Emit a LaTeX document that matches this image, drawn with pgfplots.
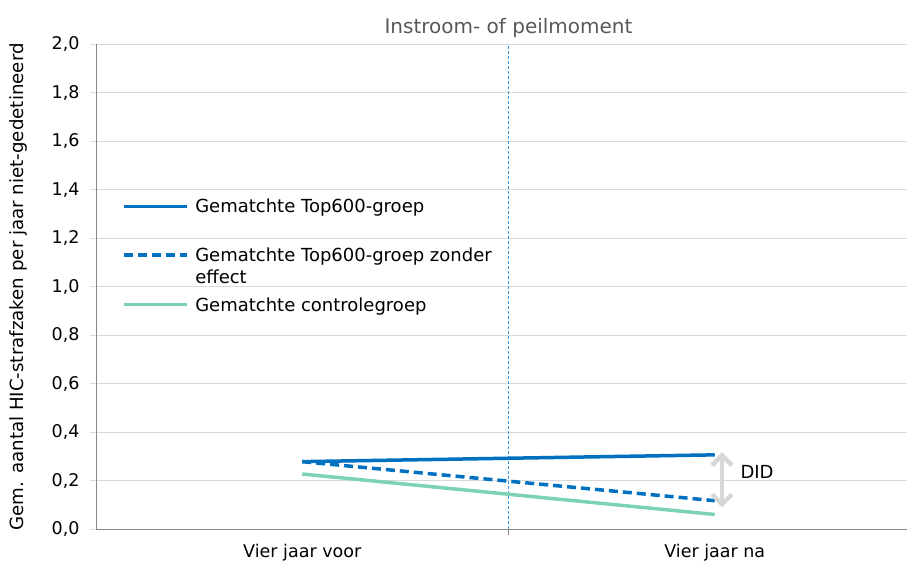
\documentclass[border=0pt]{standalone}
\usepackage{fontspec}
\setmainfont{DejaVu Sans}
\usepackage{pgfplots}
\pgfplotsset{compat=1.18}
\usetikzlibrary{arrows.meta}
\definecolor{topblue}{RGB}{0,112,192}
\definecolor{ctrlgreen}{RGB}{125,210,178}
\definecolor{vlineblue}{RGB}{50,150,225}
\definecolor{gridgray}{RGB}{217,217,217}
\definecolor{axisgray}{RGB}{134,134,134}
\definecolor{titlegray}{RGB}{89,89,89}
\definecolor{arrowgray}{RGB}{215,215,215}
\pgfplotsset{
  lowimg/.style={legend image code/.code={\draw[##1] (0bp,6.5bp) -- (63bp,6.5bp);}},
  raisedimg/.style={legend image code/.code={\draw[##1] (0bp,28.5bp) -- (63bp,28.5bp);}},
}
\begin{document}
\begin{tikzpicture}
\useasboundingbox (0,0) rectangle (907bp,563bp);
\begin{axis}[
  at={(96bp,33.7bp)}, anchor=south west,
  scale only axis, width=825bp, height=485bp,
  xmin=-0.5, xmax=1.5, ymin=0, ymax=2,
  clip=false,
  axis x line=bottom, axis y line=left,
  axis line style={-, draw=axisgray, line width=0.8bp},
  xtick={0,1}, xticklabels={Vier jaar voor, Vier jaar na},
  minor xtick={0.5},
  ytick={0,0.2,0.4,0.6,0.8,1,1.2,1.4,1.6,1.8,2},
  tick align=outside, major tick length=6bp, minor tick length=6bp,
  major x tick style={draw=none},
  minor x tick style={draw=axisgray, line width=0.8bp},
  ytick style={draw=gridgray, line width=1bp},
  ymajorgrids, major grid style={draw=gridgray, line width=1bp},
  xticklabel style={font=\fontsize{17.5bp}{21bp}\selectfont, text=black, yshift=-5bp},
  yticklabel style={font=\fontsize{17.5bp}{21bp}\selectfont, text=black, xshift=-7bp},
  /pgf/number format/.cd, use comma, fixed, fixed zerofill, precision=1, assume math mode=true,
  /pgfplots/.cd,
  ylabel={Gem. aantal HIC-strafzaken per jaar niet-gedetineerd},
  ylabel style={font=\fontsize{18.2bp}{21bp}\selectfont, at={(axis description cs:-0.094,0.5)}, anchor=center},
  lowimg,
  legend style={draw=none, fill=none, inner sep=0pt, at={(axis description cs:0.031,0.681)}, anchor=north west,
    font=\fontsize{18bp}{22bp}\selectfont, nodes={inner sep=0pt}, column sep=7bp, row sep=12.5bp,
    cells={anchor=base west, align=left}},
]
\addplot[vlineblue, line width=1bp, dash pattern=on 3bp off 2bp, forget plot] coordinates {(0.5,0) (0.5,2)};
\addplot[topblue, line width=3.5bp] coordinates {(0,0.279) (1,0.307)};
\addlegendentry{Gematchte Top600-groep}
\addplot[topblue, line width=3.5bp, dash pattern=on 9bp off 5bp, raisedimg] coordinates {(0,0.279) (1,0.118)};
\addlegendentry{\rule{0pt}{34.5bp}Gematchte Top600-groep zonder\\effect}
\addplot[ctrlgreen, line width=3.5bp] coordinates {(0,0.228) (1,0.061)};
\addlegendentry{Gematchte controlegroep}
\draw[arrowgray, line width=4.5bp, {Straight Barb[width=20bp,length=10bp]}-{Straight Barb[width=20bp,length=10bp]}] (axis cs:1.0176,0.318) -- (axis cs:1.0176,0.090);
\node[anchor=west, font=\fontsize{18bp}{22bp}\selectfont] at (axis cs:1.054,0.236) {DID};
\node[anchor=base, font=\fontsize{20bp}{24bp}\selectfont, text=titlegray, yshift=11bp] at (axis cs:0.5,2) {Instroom- of peilmoment};
\end{axis}
\end{tikzpicture}
\end{document}
